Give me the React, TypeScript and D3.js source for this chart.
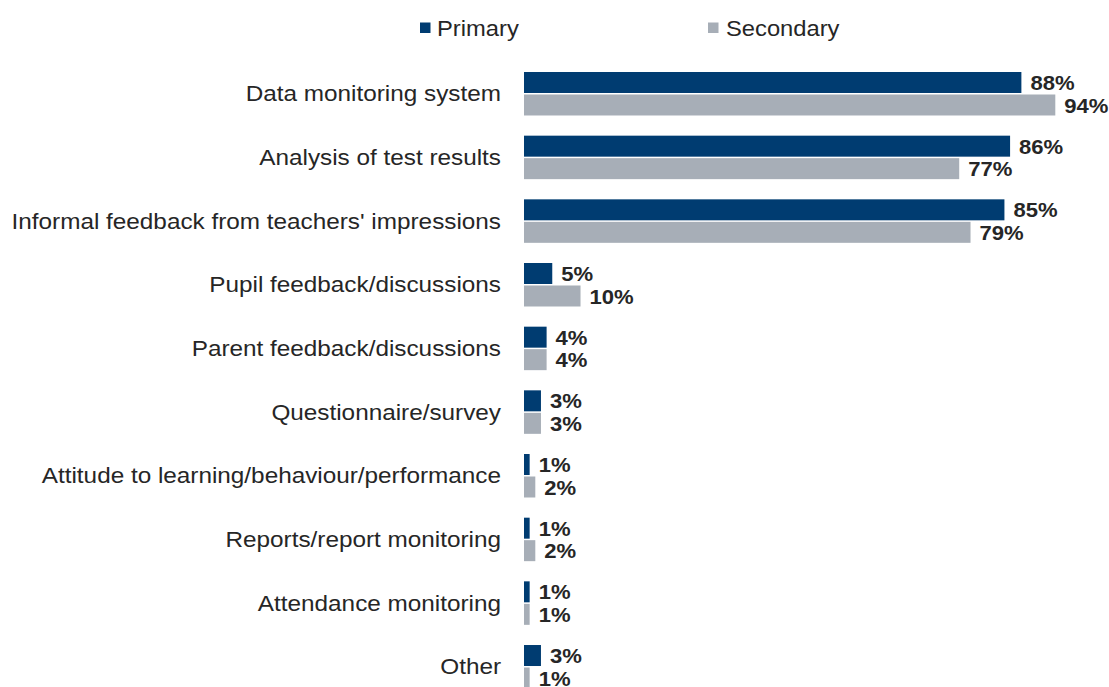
import React from "react";
import * as d3 from "d3";

const categories = [
  "Data monitoring system",
  "Analysis of test results",
  "Informal feedback from teachers' impressions",
  "Pupil feedback/discussions",
  "Parent feedback/discussions",
  "Questionnaire/survey",
  "Attitude to learning/behaviour/performance",
  "Reports/report monitoring",
  "Attendance monitoring",
  "Other",
];
const primary = [88, 86, 85, 5, 4, 3, 1, 1, 1, 3];
const secondary = [94, 77, 79, 10, 4, 3, 2, 2, 1, 1];
const seriesNames = ["Primary", "Secondary"];

const W = 1109;
const H = 687;
const C_PRI = "#003C71";
const C_SEC = "#A7AEB7";
const TXT = "#262626";
const FONT = "'Liberation Sans', Arial, sans-serif";

export default function App() {
  const x = d3.scaleLinear().domain([0, 94]).range([524, 1055.3]);
  const y = d3
    .scaleBand<string>()
    .domain(categories)
    .range([72, 688.5])
    .paddingInner(0.317)
    .paddingOuter(0);
  const bw = y.bandwidth();
  const barH = (bw - 1.5) / 2;
  const series = [primary, secondary];
  const colors = [C_PRI, C_SEC];

  return (
    <svg
      width={W}
      height={H}
      style={{ position: "absolute", left: 0, top: 0, background: "#fff" }}
      fontFamily={FONT}
    >
      {/* legend */}
      <g>
        <rect x={420} y={22.5} width={10.5} height={10.5} fill={C_PRI} />
        <text transform="translate(437,36) scale(1.08,1)" fontSize={22} fill={TXT}>
          {seriesNames[0]}
        </text>
        <rect x={708} y={22.5} width={10.5} height={10.5} fill={C_SEC} />
        <text transform="translate(726,36) scale(1.08,1)" fontSize={22} fill={TXT}>
          {seriesNames[1]}
        </text>
      </g>
      {categories.map((c, i) => {
        const y0 = y(c)!;
        return (
          <g key={c}>
            <text
              transform={`translate(501,${y0 + bw / 2}) scale(1.105,1)`}
              dy="0.35em"
              textAnchor="end"
              fontSize={22}
              fill={TXT}
            >
              {c}
            </text>
            {series.map((s, k) => {
              const by = y0 + k * (barH + 1.5);
              const xe = x(s[i]);
              return (
                <g key={k}>
                  <rect
                    x={x(0)}
                    y={by}
                    width={xe - x(0)}
                    height={barH}
                    fill={colors[k]}
                  />
                  <text
                    transform={`translate(${xe + 9},${by + barH / 2}) scale(1.05,1)`}
                    dy="0.36em"
                    fontSize={21}
                    fontWeight="bold"
                    fill={TXT}
                  >
                    {s[i] + "%"}
                  </text>
                </g>
              );
            })}
          </g>
        );
      })}
    </svg>
  );
}
